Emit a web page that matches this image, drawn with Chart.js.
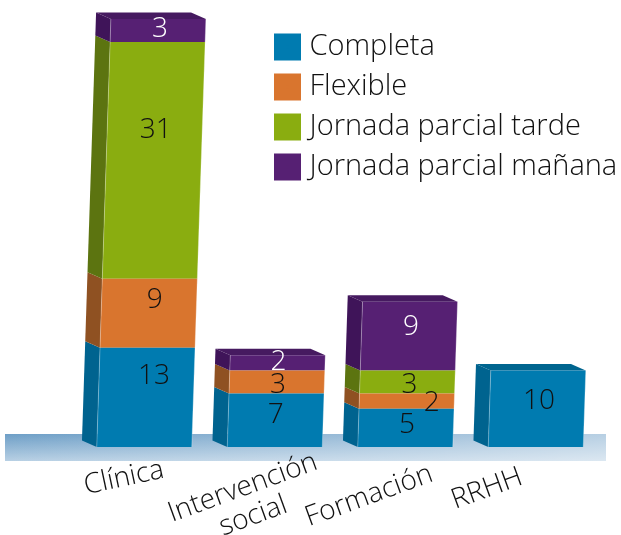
<!DOCTYPE html>
<html><head><meta charset="utf-8">
<style>html,body{margin:0;padding:0;background:#fff}canvas{display:block}</style>
<script src="https://cdn.jsdelivr.net/npm/chart.js@4"></script>
</head><body><canvas id="c" width="621" height="535"></canvas>
<script>
const categories = [["Clínica"], ["Intervención", "social"], ["Formación"], ["RRHH"]];
const completa = [13, 7, 5, 10];
const flexible = [9, 3, 2, 0];
const parcialTarde = [31, 0, 3, 0];
const parcialManana = [3, 2, 9, 0];
const seriesNames = ["Completa", "Flexible", "Jornada parcial tarde", "Jornada parcial mañana"];

const FONT = '"Open Sans", sans-serif';
const front = ["#007bb0", "#d9752e", "#8aad10", "#562073"];
const side  = ["#00638f", "#8f5122", "#5c7410", "#3f1459"];
const top3d = ["#00658f", "#8f5122", "#5c7410", "#461a60"];
const valueColor = ["#111", "#111", "#111", "#fff"];
const lean = 0.033, depthX = 15, depthY = 6.5;
// label nudges [dx,dy] per category, per series
const labelNudge = [
  [[8,-21],[6,-13],[2,-30],[2,-1]],
  [[0,-5],[1,3],[0,0],[1,-1]],
  [[1,-3],[25,2],[2,3],[2,-9]],
  [[2,-8],[0,0],[0,0],[0,0]]
];
const tickPlace = [[124,478,-12],[248,502,-20],[369,496,-20],[487,489,-20]];

function leanCtx(chart){
  const b = chart.scales.y.getPixelForValue(0);
  chart.ctx.transform(1,0,-lean,1,lean*b,0);
}
const threeD = {
  id:'threeD',
  beforeDraw(chart){
    const {ctx,scales:{y}} = chart, b = y.getPixelForValue(0);
    const gx=5, gy=b-13, gw=601, gh=27;
    ctx.save();
    let g = ctx.createLinearGradient(0,gy,0,gy+gh);
    g.addColorStop(0,'#6e9fc7'); g.addColorStop(1,'#b8d0e4');
    ctx.fillStyle=g; ctx.fillRect(gx,gy,gw,gh);
    g = ctx.createLinearGradient(gx,0,gx+gw,0);
    g.addColorStop(0,'rgba(255,255,255,0)'); g.addColorStop(1,'rgba(255,255,255,.5)');
    ctx.fillStyle=g; ctx.fillRect(gx,gy,gw,gh);
    ctx.restore();
    chart.scales.x.getLabelItems().forEach((it,i)=>{
      const p = tickPlace[i];
      it.options.translation = [p[0],p[1]];
      it.options.rotation = p[2]*Math.PI/180;
      it.options.textAlign = 'center';
      it.options.textBaseline = 'middle';
      it.textOffset = -(categories[i].length-1)*it.font.lineHeight/2;
    });
  },
  beforeDatasetsDraw(chart){
    const {ctx} = chart;
    ctx.save(); leanCtx(chart);
    chart.data.datasets.forEach((ds,d)=>{
      chart.getDatasetMeta(d).data.forEach((el,i)=>{
        if(!ds.data[i]) return;
        const {x,y:ty,base,width} = el.getProps(['x','y','base','width'],true);
        const l=x-width/2, r=x+width/2;
        ctx.fillStyle=side[d];
        ctx.beginPath();
        ctx.moveTo(l,ty);ctx.lineTo(l,base);ctx.lineTo(l-depthX,base-depthY);ctx.lineTo(l-depthX,ty-depthY);
        ctx.closePath();ctx.fill();
        const above = chart.data.datasets.slice(d+1).some(o=>o.data[i]);
        if(!above){
          ctx.fillStyle=top3d[d];
          ctx.beginPath();
          ctx.moveTo(l,ty);ctx.lineTo(r,ty);ctx.lineTo(r-depthX,ty-depthY);ctx.lineTo(l-depthX,ty-depthY);
          ctx.closePath();ctx.fill();
        }
      });
    });
  },
  afterDatasetsDraw(chart){
    const {ctx} = chart;
    ctx.strokeStyle='rgba(255,255,255,.28)'; ctx.lineWidth=1;
    chart.data.datasets.forEach((ds,d)=>{
      chart.getDatasetMeta(d).data.forEach((el,i)=>{
        if(!ds.data[i]) return;
        const {x,y:ty,base,width} = el.getProps(['x','y','base','width'],true);
        ctx.beginPath();
        ctx.moveTo(x-width/2,ty);ctx.lineTo(x-width/2,base);
        ctx.moveTo(x+width/2,ty);ctx.lineTo(x+width/2,base);
        ctx.stroke();
      });
    });
    ctx.restore();
    const b = chart.scales.y.getPixelForValue(0);
    ctx.save();
    ctx.font='300 28px '+FONT; ctx.textAlign='center'; ctx.textBaseline='middle';
    chart.data.datasets.forEach((ds,d)=>{
      chart.getDatasetMeta(d).data.forEach((el,i)=>{
        if(!ds.data[i]) return;
        const {x,y:ty,base} = el.getProps(['x','y','base'],true);
        const my=(ty+base)/2, n=labelNudge[i][d];
        ctx.fillStyle=valueColor[d];
        ctx.fillText(String(ds.data[i]), x+lean*(b-my)+n[0], my+n[1]);
      });
    });
    ctx.restore();
  },
  afterLayout(chart){
    const lg = chart.legend;
    lg.left=269; lg.right=621; lg.top=21.5; lg.bottom=200;
  }
};
const values = [completa, flexible, parcialTarde, parcialManana];
new Chart(document.getElementById('c'),{
  type:'bar',
  data:{labels:categories,datasets:values.map((v,i)=>({label:seriesNames[i],data:v,backgroundColor:front[i],borderWidth:0,clip:false,barPercentage:0.728,categoryPercentage:1}))},
  options:{
    responsive:false,animation:false,
    layout:{padding:{left:79,right:20,top:19,bottom:0}},
    plugins:{
      tooltip:{enabled:false},
      legend:{position:'chartArea',align:'start',
        labels:{boxWidth:15,boxHeight:15,padding:11,color:'#111',font:{family:FONT,size:29,weight:'300',lineHeight:1.08},
          generateLabels(chart){return chart.data.datasets.map((d,i)=>({text:d.label,fillStyle:front[i],strokeStyle:front[i],lineWidth:12,fontColor:'#111',datasetIndex:i}));}}
      }
    },
    scales:{
      x:{stacked:true,offset:true,grid:{display:false},border:{display:false},
        afterFit(s){s.height=88;},
        ticks:{autoSkip:false,maxRotation:15,minRotation:15,color:'#111',font:{family:FONT,size:28,weight:'300',lineHeight:1.08}}},
      y:{stacked:true,display:false,min:0,max:56}
    }
  },
  plugins:[threeD]
});
</script></body></html>
